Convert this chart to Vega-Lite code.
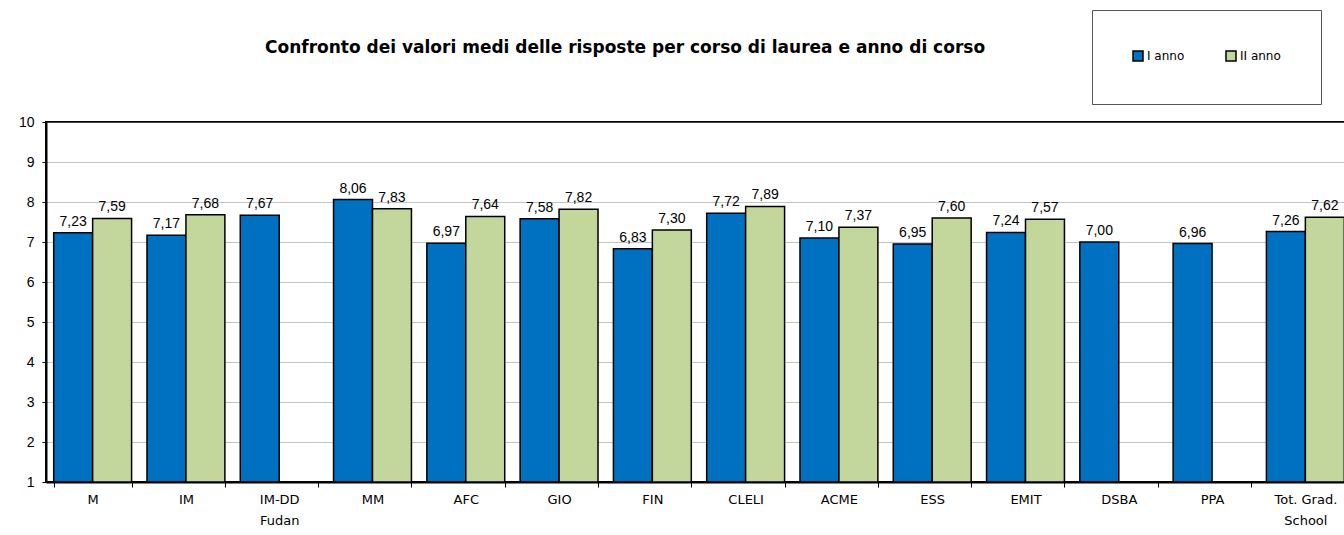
{
  "$schema": "https://vega.github.io/schema/vega-lite/v6.json",
  "autosize": {"type": "none"},
  "width": 1306,
  "height": 360,
  "padding": {"left": 46, "top": 122, "right": 0, "bottom": 53},
  "background": "white",
  "title": {
    "text": "Confronto dei valori medi delle risposte per corso di laurea e anno di corso",
    "anchor": "start",
    "frame": "group",
    "dx": 219,
    "offset": -47,
    "font": "DejaVu Sans",
    "fontSize": 17,
    "fontWeight": "bold",
    "color": "black"
  },
  "config": {
    "locale": {"number": {"decimal": ",", "thousands": ".", "grouping": [3], "currency": ["", " €"]}},
    "view": {"stroke": "black", "strokeWidth": 2}
  },
  "data": {
    "values": [
      {"corso": "M", "anno": "I anno", "valore": 7.23},
      {"corso": "M", "anno": "II anno", "valore": 7.59},
      {"corso": "IM", "anno": "I anno", "valore": 7.17},
      {"corso": "IM", "anno": "II anno", "valore": 7.68},
      {"corso": "IM-DD Fudan", "anno": "I anno", "valore": 7.67},
      {"corso": "MM", "anno": "I anno", "valore": 8.06},
      {"corso": "MM", "anno": "II anno", "valore": 7.83},
      {"corso": "AFC", "anno": "I anno", "valore": 6.97},
      {"corso": "AFC", "anno": "II anno", "valore": 7.64},
      {"corso": "GIO", "anno": "I anno", "valore": 7.58},
      {"corso": "GIO", "anno": "II anno", "valore": 7.82},
      {"corso": "FIN", "anno": "I anno", "valore": 6.83},
      {"corso": "FIN", "anno": "II anno", "valore": 7.30},
      {"corso": "CLELI", "anno": "I anno", "valore": 7.72},
      {"corso": "CLELI", "anno": "II anno", "valore": 7.89},
      {"corso": "ACME", "anno": "I anno", "valore": 7.10},
      {"corso": "ACME", "anno": "II anno", "valore": 7.37},
      {"corso": "ESS", "anno": "I anno", "valore": 6.95},
      {"corso": "ESS", "anno": "II anno", "valore": 7.60},
      {"corso": "EMIT", "anno": "I anno", "valore": 7.24},
      {"corso": "EMIT", "anno": "II anno", "valore": 7.57},
      {"corso": "DSBA", "anno": "I anno", "valore": 7.00},
      {"corso": "PPA", "anno": "I anno", "valore": 6.96},
      {"corso": "Tot. Grad. School", "anno": "I anno", "valore": 7.26},
      {"corso": "Tot. Grad. School", "anno": "II anno", "valore": 7.62}
    ]
  },
  "encoding": {
    "x": {
      "field": "corso",
      "type": "nominal",
      "sort": null,
      "scale": {"paddingInner": 0.165, "paddingOuter": 0.0825},
      "axis": {
        "title": null,
        "labelAngle": 0,
        "labelFont": "DejaVu Sans",
        "labelFontSize": 13,
        "labelColor": "black",
        "labelPadding": 6,
        "labelLineHeight": 21,
        "labelExpr": "datum.label == 'IM-DD Fudan' ? ['IM-DD', 'Fudan'] : datum.label == 'Tot. Grad. School' ? ['Tot. Grad.', 'School'] : datum.label",
        "tickBand": "extent",
        "tickColor": "black",
        "tickSize": 5,
        "tickWidth": 1,
        "domainColor": "black",
        "domainWidth": 2,
        "grid": false
      }
    },
    "xOffset": {"field": "anno", "type": "nominal", "scale": {"domain": ["I anno", "II anno"]}},
    "y": {
      "field": "valore",
      "type": "quantitative",
      "scale": {"domain": [1, 10], "zero": false, "nice": false},
      "axis": {
        "title": null,
        "values": [1, 2, 3, 4, 5, 6, 7, 8, 9, 10],
        "format": "d",
        "labelFont": "Liberation Sans",
        "labelFontSize": 14,
        "labelColor": "black",
        "labelPadding": 8,
        "tickColor": "black",
        "tickSize": 4,
        "domainColor": "black",
        "domainWidth": 2,
        "grid": true,
        "gridColor": "#888888",
        "gridDash": [1, 1],
        "gridWidth": 1
      }
    }
  },
  "layer": [
    {
      "mark": {"type": "bar", "stroke": "black", "strokeWidth": 1.5},
      "encoding": {
        "y2": {"datum": 1},
        "color": {
          "field": "anno",
          "type": "nominal",
          "scale": {"domain": ["I anno", "II anno"], "range": ["#0070C0", "#C3D69B"]},
          "legend": {
            "title": null,
            "orient": "none",
            "legendX": 1046,
            "legendY": -112,
            "direction": "horizontal",
            "padding": 40,
            "strokeColor": "#555555",
            "fillColor": "white",
            "symbolType": "square",
            "symbolSize": 100,
            "symbolStrokeColor": "black",
            "symbolStrokeWidth": 1.5,
            "labelFont": "DejaVu Sans",
            "labelFontSize": 12,
            "labelColor": "black",
            "labelOffset": 3,
            "columnPadding": 38
          }
        }
      }
    },
    {
      "mark": {"type": "text", "baseline": "bottom", "dy": -4, "font": "Liberation Sans", "fontSize": 14, "color": "black"},
      "encoding": {
        "text": {"field": "valore", "type": "quantitative", "format": ".2f"}
      }
    }
  ]
}
